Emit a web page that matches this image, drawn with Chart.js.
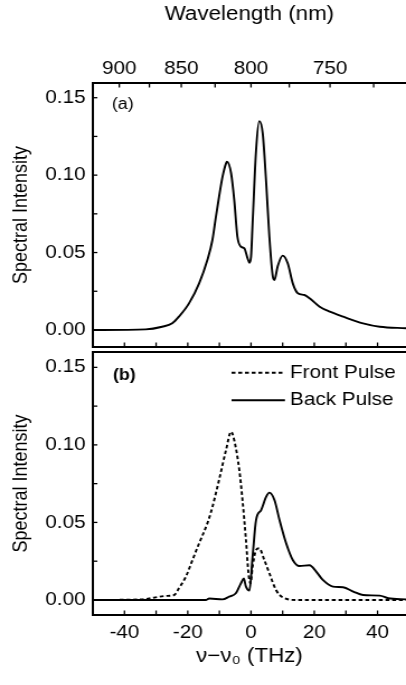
<!DOCTYPE html>
<html>
<head>
<meta charset="utf-8">
<script src="https://cdn.jsdelivr.net/npm/chart.js@4"></script>
<style>
  html, body { margin: 0; padding: 0; background: #fff; }
  #page { position: relative; width: 406px; height: 685px; overflow: hidden; }
  /* the original figure is a bit wider than tall, so draw narrow and stretch */
  .panel { position: absolute; left: 0; width: 363px; transform: scaleX(1.1185); transform-origin: 0 0; }
  #wrapA { top: 0; height: 350px; }
  #wrapB { top: 349px; height: 336px; }
  canvas { display: block; }
</style>
</head>
<body>
<div id="page">
  <div class="panel" id="wrapA"><canvas id="chartA" width="363" height="350" style="width:363px;height:350px"></canvas></div>
  <div class="panel" id="wrapB"><canvas id="chartB" width="363" height="336" style="width:363px;height:336px"></canvas></div>
</div>
<script>
// panel (a): total spectrum
const aFreq = [-50, -33.3, -28.1, -24.9, -22.8, -19.6, -16.4, -13.8, -12.2, -11.1, -10.1, -9.0, -7.9, -7.6, -6.3, -5.3, -4.3, -3.2, -2.1, -1.1, -0.5, 0, 0.5, 1.6, 2.6, 3.7, 4.8, 5.8, 6.9, 7.4, 8.4, 10.0, 11.6, 13.2, 14.8, 16.9, 18.5, 21.7, 24.9, 29.1, 35.4, 40.7, 49];
const aInt = [0, 0.0004, 0.0021, 0.0043, 0.0086, 0.0172, 0.0301, 0.0452, 0.0581, 0.0731, 0.0861, 0.099, 0.1076, 0.1087, 0.1012, 0.0839, 0.0602, 0.0538, 0.0527, 0.0463, 0.0434, 0.0473, 0.0689, 0.1162, 0.1349, 0.127, 0.0947, 0.0602, 0.0344, 0.0323, 0.0409, 0.048, 0.0431, 0.0301, 0.0237, 0.0226, 0.0205, 0.015, 0.0118, 0.0086, 0.0043, 0.0021, 0.0011];

// panel (b): front / back pulse
const frontFreq = [-50, -34.4, -30.2, -27.0, -24.3, -22.8, -20.6, -18.5, -16.4, -13.8, -12.2, -10.1, -7.9, -6.3, -5.3, -3.7, -2.7, -1.6, -0.8, -0.2, 0.5, 1.6, 2.6, 4.2, 5.8, 7.9, 10.0, 14.3, 49];
const frontInt = [0, 0.0004, 0.0017, 0.0026, 0.0032, 0.0075, 0.015, 0.0258, 0.0366, 0.0494, 0.060, 0.0774, 0.0967, 0.1085, 0.103, 0.0838, 0.0645, 0.0387, 0.0172, 0.0107, 0.0215, 0.0322, 0.0333, 0.0258, 0.0172, 0.0064, 0.0017, 0, 0];
const backFreq = [-50, -14.3, -13.2, -9.0, -6.9, -4.8, -3.2, -2.3, -1.6, -0.5, 0.5, 1.6, 3.2, 4.8, 5.8, 7.4, 9.0, 11.1, 13.2, 15.3, 18.5, 20.6, 22.7, 25.9, 29.1, 32.3, 35.4, 40.7, 43.4, 49];
const backInt = [0, 0, 0.0009, 0.0004, 0.0021, 0.0043, 0.0107, 0.0138, 0.0086, 0.006, 0.028, 0.0516, 0.058, 0.0666, 0.0692, 0.0645, 0.0516, 0.0366, 0.0258, 0.0219, 0.0224, 0.0183, 0.0129, 0.0086, 0.0082, 0.0054, 0.0032, 0.0028, 0.0011, 0.0004];

// ticks
const xTickValues = [-40, -30, -20, -10, 0, 10, 20, 30, 40];
const xTickLabels = ['-40', '', '-20', '', '0', '', '20', '', '40'];
const yTickValues = [0, 0.025, 0.05, 0.075, 0.1, 0.125, 0.15];
const yTickLabels = ['0.00', '', '0.05', '', '0.10', '', '0.15'];
const wlTickValues = [900, 875, 850, 825, 800, 775, 750, 725];
const wlTickLabels = ['900', '', '850', '', '800', '', '750', ''];

const C = 299792.458; // nm*THz
const toDetuning = (nm) => C / nm - C / 800;
const pts = (xs, ys) => xs.map((x, i) => ({ x: x, y: ys[i] }));

const FONT = '"Liberation Sans", Arial, Helvetica, sans-serif';
Chart.defaults.font.family = FONT;
Chart.defaults.color = '#000';

// ticks pointing into the plot
const innerTicks = {
  id: 'innerTicks',
  afterDraw(chart, args, opts) {
    const ctx = chart.ctx, area = chart.chartArea;
    ctx.save();
    ctx.strokeStyle = '#000';
    ctx.lineWidth = 1.3;
    (opts.scales || []).forEach(id => {
      const sc = chart.scales[id];
      sc.ticks.forEach(t => {
        const p = sc.getPixelForValue(t.value);
        ctx.beginPath();
        if (sc.isHorizontal()) {
          const y0 = sc.position === 'top' ? area.top : area.bottom;
          const dir = sc.position === 'top' ? 1 : -1;
          ctx.moveTo(p, y0);
          ctx.lineTo(p, y0 + dir * opts.len);
        } else {
          ctx.moveTo(area.left, p);
          ctx.lineTo(area.left + opts.len * 0.9, p);
        }
        ctx.stroke();
      });
    });
    ctx.restore();
  }
};

const panelTag = {
  id: 'panelTag',
  afterDraw(chart, args, opts) {
    const { ctx, chartArea } = chart;
    ctx.save();
    ctx.font = opts.font;
    ctx.fillStyle = '#000';
    ctx.textBaseline = 'middle';
    ctx.fillText(opts.text, chartArea.left + opts.dx, chartArea.top + opts.dy);
    ctx.restore();
  }
};

const lineLegend = {
  id: 'lineLegend',
  afterDraw(chart, args, opts) {
    if (!opts.display) return;
    const { ctx, chartArea } = chart;
    ctx.save();
    ctx.font = '18.5px ' + FONT;
    ctx.textBaseline = 'middle';
    chart.data.datasets.forEach((ds, i) => {
      const x = chartArea.left + opts.left;
      const y = chartArea.top + opts.top + i * opts.rowGap;
      ctx.strokeStyle = ds.borderColor;
      ctx.lineWidth = ds.borderWidth;
      ctx.setLineDash(ds.borderDash || []);
      ctx.beginPath();
      ctx.moveTo(x, y);
      ctx.lineTo(x + opts.sample, y);
      ctx.stroke();
      ctx.setLineDash([]);
      ctx.fillStyle = '#000';
      ctx.fillText(ds.label, x + opts.sample + opts.gap, y);
    });
    ctx.restore();
  }
};

const frame = { display: true, color: '#000', width: 2 };
const noGrid = { display: false, drawTicks: false };

function yAxis(min, max) {
  return {
    min: min, max: max,
    afterBuildTicks: s => { s.ticks = yTickValues.map(v => ({ value: v })); },
    afterFit: s => { s.width = 83; s.paddingTop = 0; s.paddingBottom = 0; },
    grid: noGrid,
    border: frame,
    ticks: { padding: 6.5, autoSkip: false, font: { size: 18.5 }, callback: (v, i) => yTickLabels[i] },
    title: { display: true, text: 'Spectral Intensity', font: { size: 18 }, padding: { top: 8, bottom: 0 } }
  };
}

const lineStyle = { borderColor: '#000', borderWidth: 1.9, pointRadius: 0, cubicInterpolationMode: 'monotone', fill: false };

new Chart(document.getElementById('chartA'), {
  type: 'line',
  data: {
    datasets: [Object.assign({ label: 'Spectrum', data: pts(aFreq, aInt) }, lineStyle)]
  },
  options: {
    responsive: false,
    animation: false,
    devicePixelRatio: 1,
    layout: { padding: 0 },
    scales: {
      x: {
        type: 'linear', position: 'bottom', min: -50, max: 49,
        afterBuildTicks: s => { s.ticks = xTickValues.map(v => ({ value: v })); },
        afterFit: s => { s.height = 3; s.paddingLeft = 0; s.paddingRight = 0; },
        grid: noGrid, border: frame,
        ticks: { display: false }
      },
      x2: {
        type: 'linear', position: 'top', min: -50, max: 49,
        afterBuildTicks: s => { s.ticks = wlTickValues.map(w => ({ value: toDetuning(w) })); },
        afterFit: s => { s.height = 83; s.paddingLeft = 0; s.paddingRight = 0; },
        grid: noGrid, border: frame,
        ticks: { padding: 3, autoSkip: false, maxRotation: 0, font: { size: 18.5 }, callback: (v, i) => wlTickLabels[i] },
        title: { display: true, text: 'Wavelength (nm)', font: { size: 20 }, padding: { top: 2.5, bottom: 0 } }
      },
      y: yAxis(-0.011, 0.1595)
    },
    plugins: {
      legend: { display: false },
      tooltip: { enabled: false },
      innerTicks: { scales: ['x', 'x2', 'y'], len: 4.5 },
      panelTag: { text: '(a)', font: '16px ' + FONT, dx: 17, dy: 22 },
      lineLegend: { display: false }
    }
  },
  plugins: [innerTicks, panelTag, lineLegend]
});

new Chart(document.getElementById('chartB'), {
  type: 'line',
  data: {
    datasets: [
      Object.assign({ label: 'Front Pulse', data: pts(frontFreq, frontInt), borderDash: [3.5, 2.5] }, lineStyle),
      Object.assign({ label: 'Back Pulse', data: pts(backFreq, backInt) }, lineStyle)
    ]
  },
  options: {
    responsive: false,
    animation: false,
    devicePixelRatio: 1,
    layout: { padding: 0 },
    scales: {
      x: {
        type: 'linear', position: 'bottom', min: -50, max: 49,
        afterBuildTicks: s => { s.ticks = xTickValues.map(v => ({ value: v })); },
        afterFit: s => { s.height = 70; s.paddingLeft = 0; s.paddingRight = 0; },
        grid: noGrid, border: frame,
        ticks: { padding: 7, autoSkip: false, maxRotation: 0, font: { size: 18.5 }, callback: (v, i) => xTickLabels[i] },
        title: { display: true, text: 'ν−ν₀ (THz)', font: { size: 20 }, padding: { top: 0, bottom: 16.5 } }
      },
      x2: {
        type: 'linear', position: 'top', min: -50, max: 49,
        afterFit: s => { s.height = 3; s.paddingLeft = 0; s.paddingRight = 0; },
        grid: noGrid, border: frame,
        ticks: { display: false }
      },
      y: yAxis(-0.0097, 0.1599)
    },
    plugins: {
      legend: { display: false },
      tooltip: { enabled: false },
      innerTicks: { scales: ['x', 'y'], len: 4.5 },
      panelTag: { text: '(b)', font: 'bold 16px ' + FONT, dx: 18, dy: 23.5 },
      lineLegend: { display: true, left: 124, top: 20.7, rowGap: 27.5, sample: 47.8, gap: 4.5 }
    }
  },
  plugins: [innerTicks, panelTag, lineLegend]
});
</script>
</body>
</html>
